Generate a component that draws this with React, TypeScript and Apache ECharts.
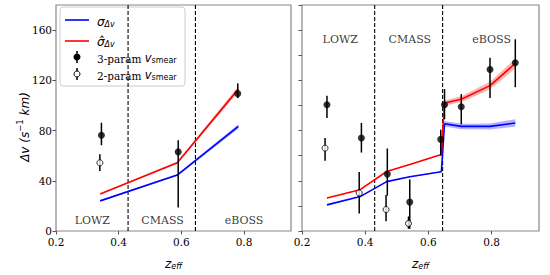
import React, { useEffect, useRef } from "react";
import * as echarts from "echarts";

// ---- Left panel data ----
const zLineL = [0.341, 0.587, 0.782];
const sigmaL = [24, 44.6, 83.3];
const sigmaHatL = [29.5, 54.3, 113];
const sigmaBandL = [0.4, 0.7, 1.8];
const sigmaHatBandL = [0.4, 0.9, 2.2];

const z3L = [0.345, 0.59, 0.78];
const v3L = [76.2, 63, 109.4];
const v3LoL = [68.3, 18.7, 105.8];
const v3HiL = [86.2, 72.2, 117.6];

const z2L = [0.34];
const v2L = [54.3];
const v2LoL = [47.7];
const v2HiL = [61.2];

// ---- Right panel data ----
const zLineR = [0.279, 0.384, 0.468, 0.541, 0.641, 0.651, 0.704, 0.795, 0.875];
const sigmaR = [20.8, 27.4, 39.3, 43.2, 47.2, 85.4, 83.3, 83.3, 86];
const sigmaHatR = [26.3, 32.9, 47.4, 53, 61, 102, 105, 115.8, 133.4];
const sigmaBandR = [0.3, 0.3, 0.3, 0.3, 0.3, 2.2, 2.2, 2.4, 3.0];
const sigmaHatBandR = [0.3, 0.3, 0.3, 0.3, 0.4, 2.0, 2.4, 3.0, 4.0];

const z3R = [0.279, 0.388, 0.47, 0.541, 0.639, 0.651, 0.704, 0.795, 0.875];
const v3R = [100.5, 74.1, 45.3, 23, 73, 100.5, 99, 128.7, 134];
const v3LoR = [90, 62.5, 28.2, 1.8, 60, 89, 85, 106, 114.5];
const v3HiR = [107.8, 86, 65.7, 41, 80.7, 113, 109, 138, 152.7];

const z2R = [0.273, 0.381, 0.466, 0.537];
const v2R = [66, 30.3, 17.1, 6];
const v2LoR = [56, 14, 7.7, 1.8];
const v2HiR = [74, 47, 28.7, 11.6];

// ---- Axes / annotations ----
const xTicks = [0.2, 0.4, 0.6, 0.8];
const yTicksLeft = [0, 40, 80, 120, 160];
const yTicksRight = [0, 20, 40, 60, 80, 100, 120, 140, 160, 180];
const dividers = [0.43, 0.645];
const regionNames = ["LOWZ", "CMASS", "eBOSS"];
const regionXL = [0.316, 0.54, 0.8];
const regionXR = [0.321, 0.541, 0.8];
const regionYL = 8;
const regionYR = 152.7;

const SERIF = "DejaVu Serif";
const SANS = "DejaVu Sans";
const FRAME = "#888";

function lineSeries(z: number[], v: number[], color: string, idx: number) {
  return {
    type: "line",
    xAxisIndex: idx,
    yAxisIndex: idx,
    data: z.map((x, i) => [x, v[i]]),
    symbol: "none",
    lineStyle: { color, width: 1.6 },
    z: 4,
  };
}

function bandSeries(z: number[], v: number[], w: number[], color: string, idx: number) {
  return {
    type: "custom",
    xAxisIndex: idx,
    yAxisIndex: idx,
    data: z.map((x, i) => [x, v[i] - w[i], v[i] + w[i]]),
    z: 3,
    renderItem: (params: any, api: any) => {
      if (params.dataIndex !== 0) return null;
      const upper = z.map((x, i) => api.coord([x, v[i] + w[i]]));
      const lower = z.map((x, i) => api.coord([x, v[i] - w[i]])).reverse();
      return {
        type: "polygon",
        shape: { points: upper.concat(lower) },
        style: { fill: color, opacity: 0.3 },
        silent: true,
      };
    },
  };
}

function errSeries(z: number[], lo: number[], hi: number[], idx: number) {
  return {
    type: "custom",
    xAxisIndex: idx,
    yAxisIndex: idx,
    data: z.map((x, i) => [x, lo[i], hi[i]]),
    z: 5,
    renderItem: (params: any, api: any) => {
      const p1 = api.coord([api.value(0), api.value(1)]);
      const p2 = api.coord([api.value(0), api.value(2)]);
      return {
        type: "line",
        shape: { x1: p1[0], y1: p1[1], x2: p2[0], y2: p2[1] },
        style: { stroke: "#000", lineWidth: 1.5 },
      };
    },
  };
}

function pointSeries(z: number[], v: number[], filled: boolean, idx: number) {
  return {
    type: "scatter",
    xAxisIndex: idx,
    yAxisIndex: idx,
    data: z.map((x, i) => [x, v[i]]),
    symbol: "circle",
    symbolSize: filled ? 7 : 6,
    itemStyle: filled
      ? { color: "#000" }
      : { color: "#fff", borderColor: "#000", borderWidth: 1 },
    z: 6,
  };
}

function dividerSeries(idx: number) {
  return dividers.map((d) => ({
    type: "line",
    xAxisIndex: idx,
    yAxisIndex: idx,
    data: [
      [d, 0],
      [d, 180],
    ],
    symbol: "none",
    lineStyle: { color: "#000", width: 1.1, type: [4, 2] },
    z: 2,
  }));
}

function regionSeries(xs: number[], y: number, idx: number) {
  return {
    type: "scatter",
    xAxisIndex: idx,
    yAxisIndex: idx,
    symbolSize: 1,
    itemStyle: { color: "rgba(0,0,0,0)" },
    data: regionNames.map((n, i) => ({ name: n, value: [xs[i], y] })),
    label: {
      show: true,
      position: "inside",
      formatter: (p: any) => p.name,
      fontFamily: SERIF,
      fontSize: 11,
      color: "#000",
    },
    z: 7,
  };
}

function xAxis(idx: number) {
  return {
    type: "value",
    gridIndex: idx,
    min: 0.2,
    max: 0.95,
    interval: 0.2,
    splitLine: { show: false },
    axisLine: { show: false },
    axisTick: { show: true, length: 3.5, customValues: xTicks, lineStyle: { color: "#555" } },
    axisLabel: {
      customValues: xTicks,
      formatter: (v: number) => v.toFixed(1),
      fontFamily: SERIF,
      fontSize: 10.5,
      color: "#000",
      margin: 5,
    },
    name: "{z|z}{s|eff}",
    nameLocation: "middle",
    nameGap: 25,
    nameTextStyle: {
      rich: {
        z: { fontFamily: SANS, fontStyle: "italic", fontSize: 12, color: "#000", verticalAlign: "bottom", lineHeight: 14 },
        s: { fontFamily: SANS, fontStyle: "italic", fontSize: 8, color: "#000", verticalAlign: "bottom", lineHeight: 10 },
      },
    },
  };
}

function yAxis(idx: number, labels: boolean) {
  const ticks = labels ? yTicksLeft : yTicksRight;
  return {
    type: "value",
    gridIndex: idx,
    min: 0,
    max: 180,
    interval: 20,
    splitLine: { show: false },
    axisLine: { show: false },
    axisTick: { show: true, length: 3.5, customValues: ticks, lineStyle: { color: "#555" } },
    axisLabel: labels
      ? { customValues: yTicksLeft, fontFamily: SERIF, fontSize: 10.5, color: "#000", margin: 4 }
      : { show: false },
  };
}

export default function App() {
  const ref = useRef<HTMLDivElement>(null);
  useEffect(() => {
    if (!ref.current) return;
    const chart = echarts.init(ref.current, null, { renderer: "svg" });
    const legendX = 60;
    const legendY = 7;
    const option: any = {
      animation: false,
      backgroundColor: "#fff",
      grid: [
        { left: 56, right: 259, top: 5, bottom: 42, show: true, borderColor: FRAME, borderWidth: 1.2, backgroundColor: "transparent" },
        { left: 302, right: 11, top: 5, bottom: 42, show: true, borderColor: FRAME, borderWidth: 1.2, backgroundColor: "transparent" },
      ],
      xAxis: [xAxis(0), xAxis(1)],
      yAxis: [yAxis(0, true), yAxis(1, false)],
      series: [
        ...dividerSeries(0),
        ...dividerSeries(1),
        bandSeries(zLineL, sigmaL, sigmaBandL, "#0000ff", 0),
        bandSeries(zLineL, sigmaHatL, sigmaHatBandL, "#ff0000", 0),
        bandSeries(zLineR, sigmaR, sigmaBandR, "#0000ff", 1),
        bandSeries(zLineR, sigmaHatR, sigmaHatBandR, "#ff0000", 1),
        lineSeries(zLineL, sigmaL, "#0000ff", 0),
        lineSeries(zLineL, sigmaHatL, "#ff0000", 0),
        lineSeries(zLineR, sigmaR, "#0000ff", 1),
        lineSeries(zLineR, sigmaHatR, "#ff0000", 1),
        errSeries(z3L, v3LoL, v3HiL, 0),
        errSeries(z2L, v2LoL, v2HiL, 0),
        errSeries(z3R, v3LoR, v3HiR, 1),
        errSeries(z2R, v2LoR, v2HiR, 1),
        pointSeries(z3L, v3L, true, 0),
        pointSeries(z2L, v2L, false, 0),
        pointSeries(z3R, v3R, true, 1),
        pointSeries(z2R, v2R, false, 1),
        regionSeries(regionXL, regionYL, 0),
        regionSeries(regionXR, regionYR, 1),
      ],
      graphic: [
        {
          type: "text",
          x: 23,
          y: 127,
          rotation: Math.PI / 2,
          style: {
            text: "{i|Δv (s}{sup|−1}{i| km)}",
            align: "center",
            verticalAlign: "middle",
            rich: {
              i: { fontFamily: SANS, fontStyle: "italic", fontSize: 12, fill: "#000", verticalAlign: "bottom", lineHeight: 16 },
              sup: { fontFamily: SANS, fontSize: 8.5, fill: "#000", verticalAlign: "top", lineHeight: 16 },
            },
          },
        },
        {
          type: "group",
          x: legendX,
          y: legendY,
          z: 100,
          children: [
            {
              type: "rect",
              shape: { x: 0, y: 0, width: 125, height: 79, r: 3 },
              style: { fill: "rgba(255,255,255,0.85)", stroke: "#ccc", lineWidth: 1 },
            },
            { type: "line", shape: { x1: 5, y1: 13, x2: 29, y2: 13 }, style: { stroke: "#0000ff", lineWidth: 1.6 } },
            { type: "line", shape: { x1: 5, y1: 34, x2: 29, y2: 34 }, style: { stroke: "#ff0000", lineWidth: 1.6 } },
            { type: "line", shape: { x1: 17, y1: 44, x2: 17, y2: 56 }, style: { stroke: "#000", lineWidth: 1.5 } },
            { type: "circle", shape: { cx: 17, cy: 50, r: 3.5 }, style: { fill: "#000" } },
            { type: "line", shape: { x1: 17, y1: 61, x2: 17, y2: 73 }, style: { stroke: "#000", lineWidth: 1.5 } },
            { type: "circle", shape: { cx: 17, cy: 67, r: 3 }, style: { fill: "#fff", stroke: "#000", lineWidth: 1 } },
            {
              type: "text",
              x: 37,
              y: 14,
              style: {
                text: "{s|σ}{b|Δv}",
                verticalAlign: "middle",
                rich: {
                  s: { fontFamily: SANS, fontStyle: "italic", fontSize: 12, fill: "#000", verticalAlign: "bottom", lineHeight: 14 },
                  b: { fontFamily: SANS, fontStyle: "italic", fontSize: 8, fill: "#000", verticalAlign: "bottom", lineHeight: 11 },
                },
              },
            },
            {
              type: "text",
              x: 37,
              y: 34,
              style: {
                text: "{s|σ̂}{b|Δv}",
                verticalAlign: "middle",
                rich: {
                  s: { fontFamily: SANS, fontStyle: "italic", fontSize: 12, fill: "#000", verticalAlign: "bottom", lineHeight: 14 },
                  b: { fontFamily: SANS, fontStyle: "italic", fontSize: 8, fill: "#000", verticalAlign: "bottom", lineHeight: 11 },
                },
              },
            },
            {
              type: "text",
              x: 37,
              y: 50,
              style: {
                text: "{r|3-param }{v|v}{b|smear}",
                verticalAlign: "middle",
                rich: {
                  r: { fontFamily: SERIF, fontSize: 10.5, fill: "#000", verticalAlign: "bottom", lineHeight: 14 },
                  v: { fontFamily: SANS, fontStyle: "italic", fontSize: 11.5, fill: "#000", verticalAlign: "bottom", lineHeight: 14 },
                  b: { fontFamily: SANS, fontSize: 8, fill: "#000", verticalAlign: "bottom", lineHeight: 12 },
                },
              },
            },
            {
              type: "text",
              x: 37,
              y: 67,
              style: {
                text: "{r|2-param }{v|v}{b|smear}",
                verticalAlign: "middle",
                rich: {
                  r: { fontFamily: SERIF, fontSize: 10.5, fill: "#000", verticalAlign: "bottom", lineHeight: 14 },
                  v: { fontFamily: SANS, fontStyle: "italic", fontSize: 11.5, fill: "#000", verticalAlign: "bottom", lineHeight: 14 },
                  b: { fontFamily: SANS, fontSize: 8, fill: "#000", verticalAlign: "bottom", lineHeight: 12 },
                },
              },
            },
          ],
        },
      ],
    };
    chart.setOption(option);
    return () => chart.dispose();
  }, []);
  return (
    <div
      ref={ref}
      style={{ position: "fixed", left: 0, top: 0, width: 550, height: 275 }}
    />
  );
}
